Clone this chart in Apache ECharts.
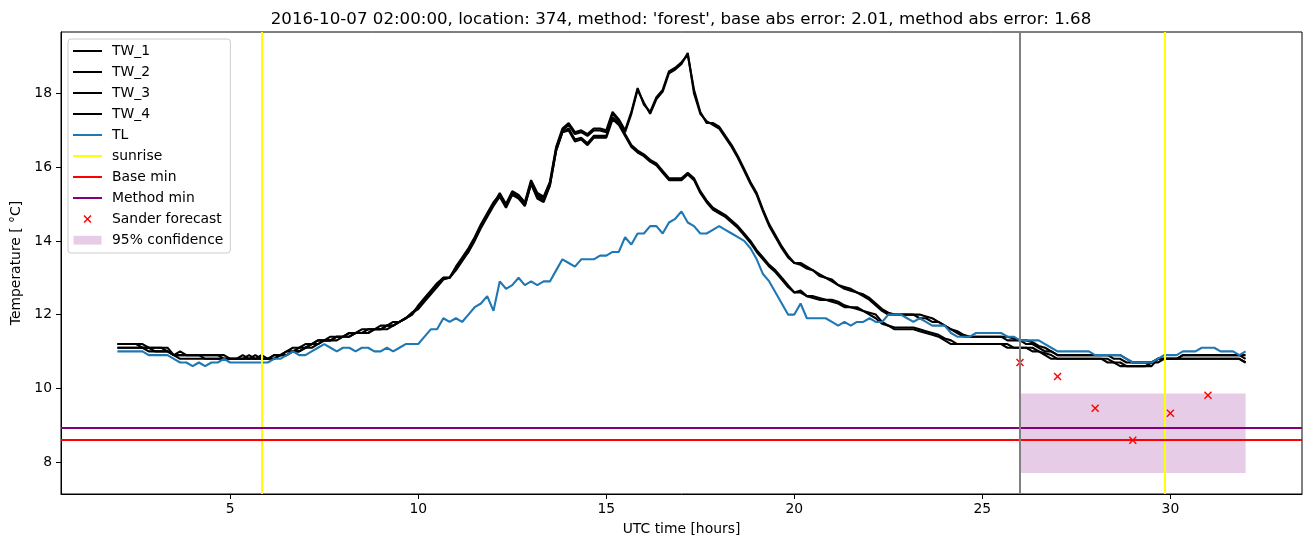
<!DOCTYPE html>
<html>
<head>
<meta charset="utf-8">
<script src="https://cdn.jsdelivr.net/npm/echarts@6/dist/echarts.min.js"></script>
<style>
html,body{margin:0;padding:0;background:#fff;}
#chart{width:1311px;height:547px;}
</style>
</head>
<body>
<div id="chart"></div>
<script>
// ---- data (10-minute samples starting at 02:00 UTC) ----
const startHour = 2;
const stepHours = 1 / 6;

const TW_1 = [
11.2,11.2,11.2,11.2,11.2,11.1,
11.1,11.1,11.1,10.9,10.9,10.9,
10.9,10.9,10.9,10.9,10.9,10.9,
10.8,10.8,10.8,10.8,10.8,10.8,
10.8,10.9,10.9,11.0,11.0,11.1,
11.1,11.2,11.3,11.3,11.3,11.4,
11.4,11.5,11.5,11.5,11.6,11.6,
11.6,11.7,11.7,11.8,11.9,12.05,
12.2,12.4,12.6,12.8,13.0,13.0,
13.25,13.5,13.75,14.05,14.4,14.7,
15.0,15.3,15.0,15.35,15.25,15.05,
15.65,15.3,15.2,15.6,16.55,17.05,
17.2,16.95,17.0,16.9,17.05,17.05,
17.0,17.5,17.3,17.0,17.5,18.15,
17.7,17.5,17.9,18.1,18.6,18.7,
18.85,19.05,18.1,17.5,17.2,17.2,
17.1,16.85,16.6,16.3,15.95,15.6,
15.3,14.85,14.45,14.15,13.85,13.6,
13.4,13.4,13.3,13.2,13.1,13.0,
12.95,12.8,12.75,12.7,12.6,12.55,
12.45,12.3,12.15,12.05,12.0,12.0,
12.0,12.0,12.0,11.95,11.9,11.8,
11.7,11.6,11.55,11.45,11.4,11.4,
11.4,11.4,11.4,11.4,11.4,11.35,
11.3,11.3,11.25,11.15,11.1,11.0,
10.9,10.9,10.9,10.9,10.9,10.9,
10.9,10.9,10.9,10.9,10.9,10.8,
10.7,10.7,10.7,10.7,10.8,10.8,
10.8,10.8,10.9,10.9,10.9,10.9,
10.9,10.9,10.9,10.9,10.9,10.9,
10.8];

const TW_2 = [
11.2,11.2,11.2,11.2,11.1,11.1,
11.1,11.1,11.0,10.9,11.0,10.9,
10.9,10.9,10.9,10.9,10.9,10.8,
10.8,10.8,10.9,10.8,10.9,10.8,
10.8,10.8,10.9,10.9,11.0,11.0,
11.1,11.2,11.2,11.3,11.3,11.4,
11.4,11.4,11.5,11.5,11.5,11.6,
11.6,11.6,11.7,11.8,11.9,12.0,
12.25,12.45,12.65,12.85,13.0,13.0,
13.3,13.55,13.8,14.1,14.45,14.75,
15.05,15.25,14.95,15.3,15.2,15.0,
15.6,15.25,15.15,15.55,16.5,17.0,
17.15,16.9,16.95,16.85,17.0,17.0,
16.95,17.45,17.25,16.95,17.45,18.1,
17.75,17.45,17.85,18.05,18.55,18.65,
18.8,19.1,18.0,17.45,17.25,17.15,
17.05,16.8,16.55,16.25,15.9,15.55,
15.25,14.8,14.4,14.1,13.8,13.55,
13.4,13.35,13.25,13.2,13.05,13.0,
12.9,12.8,12.7,12.65,12.6,12.5,
12.4,12.25,12.1,12.0,12.0,12.0,
12.0,12.0,11.9,11.9,11.8,11.8,
11.7,11.6,11.5,11.4,11.4,11.4,
11.4,11.4,11.4,11.4,11.3,11.3,
11.3,11.2,11.2,11.1,11.0,11.0,
10.9,10.9,10.9,10.9,10.9,10.9,
10.9,10.9,10.9,10.8,10.8,10.7,
10.7,10.7,10.7,10.7,10.7,10.8,
10.8,10.8,10.9,10.9,10.9,10.9,
10.9,10.9,10.9,10.9,10.9,10.9,
10.9];

const TW_3 = [
11.1,11.1,11.1,11.1,11.1,11.0,
11.0,11.0,11.0,10.9,10.9,10.9,
10.9,10.9,10.8,10.8,10.8,10.8,
10.8,10.8,10.8,10.9,10.8,10.8,
10.8,10.9,10.9,11.0,11.1,11.1,
11.2,11.2,11.3,11.3,11.4,11.4,
11.4,11.5,11.5,11.6,11.6,11.6,
11.7,11.7,11.8,11.8,11.9,12.05,
12.15,12.35,12.55,12.75,12.95,13.0,
13.2,13.45,13.7,14.0,14.35,14.65,
14.95,15.2,14.9,15.25,15.15,14.95,
15.55,15.15,15.05,15.5,16.45,16.95,
17.05,16.75,16.8,16.65,16.85,16.85,
16.85,17.35,17.2,16.9,16.6,16.45,
16.35,16.2,16.1,15.9,15.7,15.7,
15.7,15.85,15.7,15.35,15.1,14.9,
14.8,14.7,14.55,14.4,14.2,14.0,
13.75,13.55,13.35,13.2,13.0,12.8,
12.6,12.65,12.5,12.5,12.45,12.4,
12.4,12.35,12.25,12.2,12.2,12.1,
12.05,12.0,11.8,11.7,11.65,11.65,
11.65,11.65,11.6,11.55,11.5,11.45,
11.35,11.3,11.2,11.2,11.2,11.2,
11.2,11.2,11.2,11.2,11.2,11.1,
11.1,11.1,11.1,11.0,10.95,10.9,
10.8,10.8,10.8,10.8,10.8,10.8,
10.8,10.8,10.8,10.7,10.7,10.6,
10.6,10.6,10.6,10.6,10.8,10.8,
10.8,10.8,10.8,10.8,10.8,10.8,
10.8,10.8,10.8,10.8,10.8,10.8,
10.7];

const TW_4 = [
11.1,11.1,11.1,11.1,11.1,11.1,
11.0,11.0,11.0,10.9,10.8,10.8,
10.8,10.8,10.8,10.8,10.8,10.8,
10.8,10.8,10.8,10.8,10.8,10.9,
10.8,10.8,10.9,10.9,11.0,11.0,
11.1,11.1,11.2,11.3,11.3,11.3,
11.4,11.4,11.5,11.5,11.5,11.6,
11.6,11.7,11.7,11.8,11.9,12.0,
12.2,12.4,12.6,12.8,13.0,13.0,
13.25,13.5,13.7,14.05,14.4,14.7,
15.0,15.25,14.95,15.3,15.2,14.95,
15.55,15.2,15.1,15.5,16.45,16.95,
17.0,16.7,16.75,16.6,16.8,16.8,
16.8,17.3,17.15,16.85,16.55,16.4,
16.3,16.15,16.05,15.85,15.65,15.65,
15.65,15.8,15.65,15.3,15.05,14.85,
14.75,14.65,14.5,14.35,14.15,13.95,
13.7,13.5,13.3,13.15,12.95,12.75,
12.6,12.6,12.5,12.45,12.4,12.4,
12.35,12.3,12.2,12.2,12.15,12.1,
12.0,11.9,11.75,11.7,11.6,11.6,
11.6,11.6,11.55,11.5,11.45,11.4,
11.3,11.2,11.2,11.2,11.2,11.2,
11.2,11.2,11.2,11.2,11.1,11.1,
11.1,11.1,11.0,11.0,10.9,10.8,
10.8,10.8,10.8,10.8,10.8,10.8,
10.8,10.8,10.7,10.7,10.6,10.6,
10.6,10.6,10.6,10.7,10.8,10.8,
10.8,10.8,10.8,10.8,10.8,10.8,
10.8,10.8,10.8,10.8,10.8,10.8,
10.7];

const TL = [
11.0,11.0,11.0,11.0,11.0,10.9,
10.9,10.9,10.9,10.8,10.7,10.7,
10.6,10.7,10.6,10.7,10.7,10.8,
10.7,10.7,10.7,10.7,10.7,10.7,
10.7,10.8,10.8,10.9,11.0,10.9,
10.9,11.0,11.1,11.2,11.1,11.0,
11.1,11.1,11.0,11.1,11.1,11.0,
11.0,11.1,11.0,11.1,11.2,11.2,
11.2,11.4,11.6,11.6,11.9,11.8,
11.9,11.8,12.0,12.2,12.3,12.5,
12.1,12.9,12.7,12.8,13.0,12.8,
12.9,12.8,12.9,12.9,13.2,13.5,
13.4,13.3,13.5,13.5,13.5,13.6,
13.6,13.7,13.7,14.1,13.9,14.2,
14.2,14.4,14.4,14.2,14.5,14.6,
14.8,14.5,14.4,14.2,14.2,14.3,
14.4,14.3,14.2,14.1,14.0,13.8,
13.5,13.1,12.9,12.6,12.3,12.0,
12.0,12.3,11.9,11.9,11.9,11.9,
11.8,11.7,11.8,11.7,11.8,11.8,
11.9,11.8,11.8,12.0,12.0,12.0,
11.9,11.8,11.9,11.8,11.7,11.7,
11.7,11.5,11.4,11.4,11.4,11.5,
11.5,11.5,11.5,11.5,11.4,11.4,
11.3,11.3,11.3,11.3,11.2,11.1,
11.0,11.0,11.0,11.0,11.0,11.0,
10.9,10.9,10.9,10.9,10.9,10.8,
10.7,10.7,10.7,10.7,10.8,10.9,
10.9,10.9,11.0,11.0,11.0,11.1,
11.1,11.1,11.0,11.0,11.0,10.9,
11.0];

const sunriseHours = [5.85, 29.85];
const forecastTime = 26;
const baseMin = 8.6;
const methodMin = 8.93;
const sanderHours = [26, 27, 28, 29, 30, 31];
const sanderValues = [10.7, 10.32, 9.46, 8.59, 9.32, 9.81];
const confidence = { from: 26, to: 32, low: 7.7, high: 9.86 };
const xTicks = [5, 10, 15, 20, 25, 30];
const yTicks = [8, 10, 12, 14, 16, 18];
const titleText = "2016-10-07 02:00:00, location: 374, method: 'forest', base abs error: 2.01, method abs error: 1.68";

// ---- chart ----
function toPairs(arr) { return arr.map((v, i) => [startHour + i * stepHours, v]); }
const FONT = 'DejaVu Sans';
const lineIcon = 'path://M0,0 M34,10 M0,4 L29,4 L29,6 L0,6 Z';
const xIcon = 'path://M0,0 M34,10 M10.5,2 L11.5,1 L14.5,4 L17.5,1 L18.5,2 L15.5,5 L18.5,8 L17.5,9 L14.5,6 L11.5,9 L10.5,8 L13.5,5 Z';
const rectIcon = 'path://M0,0 M34,10 M0.5,0.8 L28.5,0.8 L28.5,9.6 L0.5,9.6 Z';
const xSymbol = 'path://M0,1 L1,0 L4,3 L7,0 L8,1 L5,4 L8,7 L7,8 L4,5 L1,8 L0,7 L3,4 Z';

function twSeries(name, arr) {
  return {
    name: name, type: 'line', data: toPairs(arr), symbol: 'none', showSymbol: false,
    color: '#000000', lineStyle: { color: '#000000', width: 2.1 }, z: 2, animation: false, silent: true
  };
}

const chart = echarts.init(document.getElementById('chart'), null, { renderer: 'canvas' });
const option = {
  animation: false,
  backgroundColor: '#ffffff',
  textStyle: { fontFamily: FONT },
  title: {
    text: titleText, left: 676, top: 6, textAlign: 'center',
    textStyle: { fontFamily: FONT, fontSize: 16.67, fontWeight: 'normal', color: '#000' }
  },
  grid: { left: 61, right: 9, top: 32, bottom: 53, show: true, borderColor: '#000', borderWidth: 1, backgroundColor: 'transparent' },
  legend: {
    orient: 'vertical', left: 68, top: 39,
    padding: [5, 7, 6, 5], itemGap: 7, itemWidth: 34, itemHeight: 10,
    backgroundColor: 'rgba(255,255,255,0.8)', borderColor: '#cccccc', borderWidth: 1, borderRadius: 3,
    textStyle: { fontFamily: FONT, fontSize: 13.9, color: '#000', padding: [0, 0, 0, 0] },
    selectedMode: false,
    data: [
      { name: 'TW_1', icon: lineIcon }, { name: 'TW_2', icon: lineIcon },
      { name: 'TW_3', icon: lineIcon }, { name: 'TW_4', icon: lineIcon },
      { name: 'TL', icon: lineIcon }, { name: 'sunrise', icon: lineIcon },
      { name: 'Base min', icon: lineIcon }, { name: 'Method min', icon: lineIcon },
      { name: 'Sander forecast', icon: xIcon }, { name: '95% confidence', icon: rectIcon }
    ]
  },
  xAxis: {
    type: 'value', min: 0.5, max: 33.5,
    name: 'UTC time [hours]', nameLocation: 'middle', nameGap: 28,
    nameTextStyle: { fontFamily: FONT, fontSize: 13.9, color: '#000' },
    axisLine: { show: true, onZero: false, lineStyle: { color: '#000', width: 1 } },
    axisTick: { show: true, length: 5, inside: false, customValues: xTicks, lineStyle: { color: '#000' } },
    axisLabel: { customValues: xTicks, margin: 8, fontFamily: FONT, fontSize: 13.9, color: '#000' },
    splitLine: { show: false }
  },
  yAxis: {
    type: 'value', min: 7.13, max: 19.67,
    name: 'Temperature [ °C]', nameLocation: 'middle', nameGap: 35, nameRotate: 90,
    nameTextStyle: { fontFamily: FONT, fontSize: 13.9, color: '#000' },
    axisLine: { show: true, onZero: false, lineStyle: { color: '#000', width: 1 } },
    axisTick: { show: true, length: 5, inside: false, customValues: yTicks, lineStyle: { color: '#000' } },
    axisLabel: { customValues: yTicks, margin: 9, fontFamily: FONT, fontSize: 13.9, color: '#000' },
    splitLine: { show: false }
  },
  series: [
    twSeries('TW_1', TW_1), twSeries('TW_2', TW_2), twSeries('TW_3', TW_3), twSeries('TW_4', TW_4),
    {
      name: 'TL', type: 'line', data: toPairs(TL), symbol: 'none', showSymbol: false,
      color: '#1f77b4', lineStyle: { color: '#1f77b4', width: 2.1 }, z: 2, silent: true
    },
    {
      name: 'sunrise', type: 'line', data: [], color: '#ffff00', z: 3,
      markLine: {
        silent: true, symbol: 'none', animation: false, label: { show: false },
        lineStyle: { color: '#ffff00', width: 2, type: 'solid' },
        data: sunriseHours.map(h => ({ xAxis: h }))
      }
    },
    {
      name: 'Base min', type: 'line', data: [], color: '#ff0000', z: 3,
      markLine: {
        silent: true, symbol: 'none', animation: false, label: { show: false },
        lineStyle: { color: '#ff0000', width: 2, type: 'solid' },
        data: [{ yAxis: baseMin }]
      }
    },
    {
      name: 'Method min', type: 'line', data: [], color: '#800080', z: 3,
      markLine: {
        silent: true, symbol: 'none', animation: false, label: { show: false },
        lineStyle: { color: '#800080', width: 2, type: 'solid' },
        data: [{ yAxis: methodMin }]
      }
    },
    {
      name: 'forecast time', type: 'line', data: [], color: '#808080', z: 3,
      markLine: {
        silent: true, symbol: 'none', animation: false, label: { show: false },
        lineStyle: { color: '#808080', width: 2, type: 'solid' },
        data: [{ xAxis: forecastTime }]
      }
    },
    {
      name: 'Sander forecast', type: 'scatter', z: 4, silent: true,
      data: sanderHours.map((h, i) => [h, sanderValues[i]]),
      symbol: xSymbol, symbolSize: 8, symbolKeepAspect: true,
      color: '#ff0000', itemStyle: { color: '#ff0000', opacity: 1 }
    },
    {
      name: '95% confidence', type: 'custom', z: 1, silent: true,
      color: 'rgba(128,0,128,0.2)',
      data: [[confidence.from, confidence.to, confidence.low, confidence.high]],
      encode: { x: [0, 1], y: [2, 3] },
      renderItem: function (params, api) {
        const p1 = api.coord([api.value(0), api.value(3)]);
        const p2 = api.coord([api.value(1), api.value(2)]);
        return {
          type: 'rect',
          shape: { x: p1[0], y: p1[1], width: p2[0] - p1[0], height: p2[1] - p1[1] },
          style: { fill: 'rgba(128,0,128,0.2)' }
        };
      }
    }
  ]
};
chart.setOption(option);
</script>
</body>
</html>
